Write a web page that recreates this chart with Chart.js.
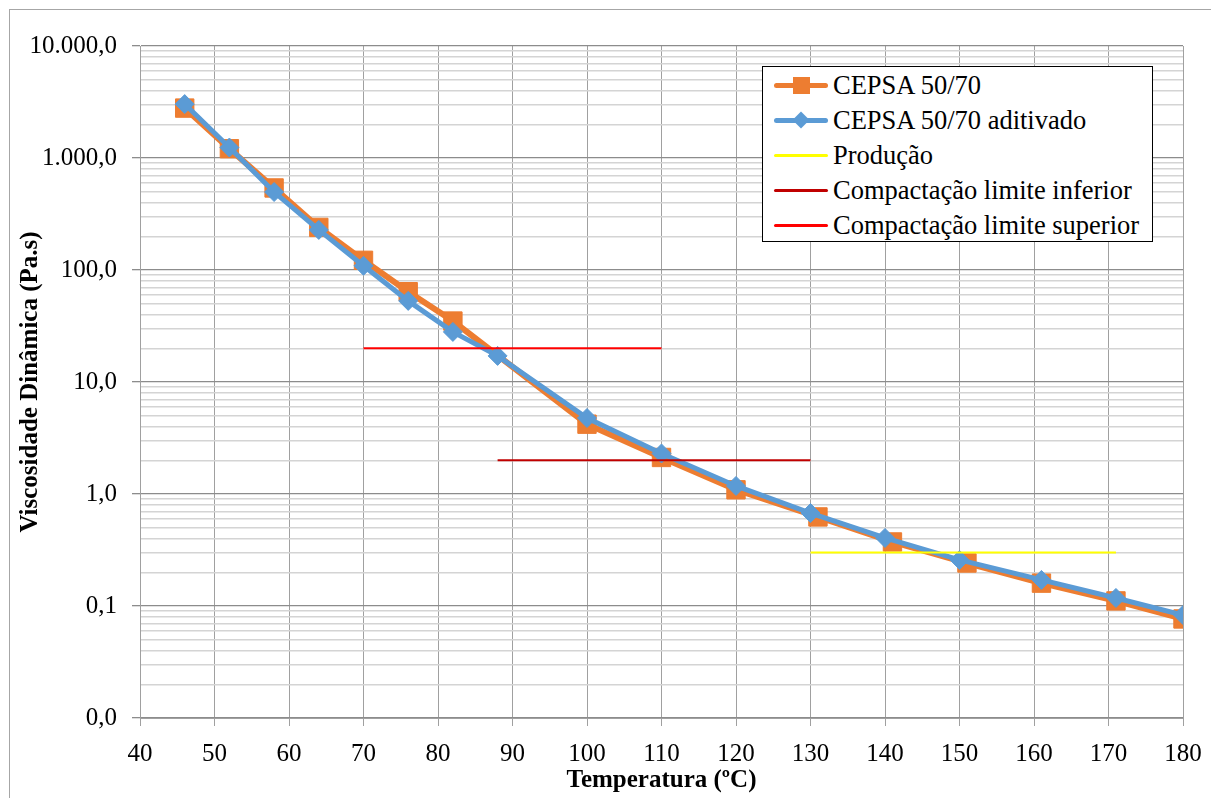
<!DOCTYPE html>
<html>
<head>
<meta charset="utf-8">
<script src="https://cdn.jsdelivr.net/npm/chart.js@4/dist/chart.umd.min.js"></script>
<style>
  html, body { margin: 0; padding: 0; background: #fff; }
  #wrap { position: relative; width: 1211px; height: 798px; overflow: hidden; }
  #frame { position: absolute; left: 9px; top: 9px; width: 1300px; height: 900px; border: 1px solid #a6a6a6; }
  canvas { position: absolute; left: 0; top: 0; }
  #legend {
    position: absolute; left: 762px; top: 66px; width: 389px; height: 174px;
    border: 1.5px solid #000; background: #fff;
    font-family: 'Liberation Serif'; font-size: 26.5px; color: #000;
  }
  .item { position: absolute; left: 11px; height: 34px; line-height: 34px; white-space: nowrap; }
  .sample { position: absolute; left: 0; top: 17px; width: 54px; }
  .sample .ln { position: absolute; left: 0; width: 54px; border-radius: 3px; }
  .sample .mk { position: absolute; }
  .item .txt { position: absolute; left: 59px; top: 0; }
</style>
</head>
<body>
<div id="wrap">
  <div id="frame"></div>
  <canvas id="chart" width="1211" height="798"></canvas>
  <div id="legend"></div>
</div>
<script>
// temperatures (ºC) and dynamic viscosity (Pa.s)
const tempBase = [46, 52, 58, 64, 70, 76, 82, null, 100, 110, 120, 131, 141, 151, 161, 171, 180];
const viscBase = [2790, 1210, 540, 240, 122, 64, 35, null, 4.2, 2.12, 1.09, 0.624, 0.373, 0.242, 0.160, 0.111, 0.0766];

const tempAdd = [46, 52, 58, 64, 70, 76, 82, 88, 100, 110, 120, 130, 140, 150, 161, 171, 180];
const viscAdd = [3030, 1240, 497, 228, 109, 53, 28, 17.1, 4.77, 2.30, 1.18, 0.676, 0.405, 0.258, 0.171, 0.118, 0.083];

// reference ranges
const producaoT = [130, 171];
const producaoV = [0.3, 0.3];
const limInfT = [88, 130];
const limInfV = [2, 2];
const limSupT = [70, 110];
const limSupV = [20, 20];

const xTicks = [40, 50, 60, 70, 80, 90, 100, 110, 120, 130, 140, 150, 160, 170, 180];
const yTickValues = [0.01, 0.1, 1, 10, 100, 1000, 10000];
const yTickLabels = ['0,0', '0,1', '1,0', '10,0', '100,0', '1.000,0', '10.000,0'];

const seriesNames = ['CEPSA 50/70', 'CEPSA 50/70 aditivado', 'Produção', 'Compactação limite inferior', 'Compactação limite superior'];
const seriesColors = ['#ED7D31', '#5B9BD5', '#FFFF00', '#C00000', '#FF0000'];

function toPoints(xs, ys) {
    return xs.map((x, i) => (x === null ? null : { x: x, y: ys[i] })).filter(p => p !== null);
}

function isDecade(v) {
    const l = Math.log10(v);
    return Math.abs(l - Math.round(l)) < 1e-6;
}

const serif = 'Liberation Serif';

const datasets = [
    {
        label: seriesNames[0],
        data: toPoints(tempBase, viscBase),
        borderColor: seriesColors[0],
        backgroundColor: seriesColors[0],
        borderWidth: 6,
        pointStyle: 'rect',
        pointRadius: 13,
        pointBorderWidth: 1,
        order: 5
    },
    {
        label: seriesNames[1],
        data: toPoints(tempAdd, viscAdd),
        borderColor: seriesColors[1],
        backgroundColor: seriesColors[1],
        borderWidth: 5,
        pointStyle: 'rectRot',
        pointRadius: 9.5,
        pointBorderWidth: 1,
        order: 4
    },
    {
        label: seriesNames[2],
        data: toPoints(producaoT, producaoV),
        borderColor: seriesColors[2],
        borderWidth: 2,
        pointRadius: 0,
        order: 3
    },
    {
        label: seriesNames[3],
        data: toPoints(limInfT, limInfV),
        borderColor: seriesColors[3],
        borderWidth: 2,
        pointRadius: 0,
        order: 2
    },
    {
        label: seriesNames[4],
        data: toPoints(limSupT, limSupV),
        borderColor: seriesColors[4],
        borderWidth: 2,
        pointRadius: 0,
        order: 1
    }
];

new Chart(document.getElementById('chart').getContext('2d'), {
    type: 'scatter',
    data: { datasets: datasets.map(d => Object.assign({ showLine: true, fill: false, tension: 0 }, d)) },
    options: {
        responsive: false,
        animation: false,
        layout: { padding: { left: 0, top: 46, right: 28, bottom: 0 } },
        plugins: { legend: { display: false }, tooltip: { enabled: false } },
        scales: {
            x: {
                type: 'linear',
                min: 40,
                max: 180,
                afterFit: s => { s.height = 80; s.paddingLeft = 0; s.paddingRight = 0; },
                afterBuildTicks: s => { s.ticks = xTicks.map(v => ({ value: v })); },
                ticks: { font: { family: serif, size: 25 }, color: '#000', padding: 13, maxRotation: 0 },
                grid: { color: '#a0a0a0', lineWidth: 1, tickLength: 8, tickColor: '#a0a0a0' },
                border: { color: '#a0a0a0' },
                title: {
                    display: true,
                    text: 'Temperatura (ºC)',
                    font: { family: serif, size: 25, weight: 'bold' },
                    color: '#000',
                    padding: { top: 0, bottom: 2 }
                }
            },
            y: {
                type: 'logarithmic',
                min: 0.01,
                max: 10000,
                afterFit: s => { s.width = 140; s.paddingTop = 0; s.paddingBottom = 0; },
                afterBuildTicks: s => {
                    const t = [];
                    for (let e = -2; e < 4; e++) {
                        for (let m = 1; m < 10; m++) t.push({ value: m * Math.pow(10, e) });
                    }
                    t.push({ value: 10000 });
                    s.ticks = t;
                },
                ticks: {
                    autoSkip: false,
                    font: { family: serif, size: 25 },
                    color: '#000',
                    padding: 15,
                    callback: v => {
                        const i = yTickValues.findIndex(t => Math.abs(t - v) / t < 1e-6);
                        return i >= 0 ? yTickLabels[i] : '';
                    }
                },
                grid: {
                    color: c => (c.tick && isDecade(c.tick.value) ? '#8c8c8c' : '#d4d4d4'),
                    lineWidth: c => (c.tick && isDecade(c.tick.value) ? 1.3 : 1.5),
                    tickLength: 8,
                    tickColor: c => (c.tick && isDecade(c.tick.value) ? '#8c8c8c' : 'rgba(0,0,0,0)')
                },
                border: { color: '#a0a0a0' },
                title: {
                    display: true,
                    text: 'Viscosidade Dinâmica (Pa.s)',
                    font: { family: serif, size: 25, weight: 'bold' },
                    color: '#000',
                    padding: { top: 16, bottom: 0 }
                }
            }
        }
    }
});

// legend box
const legend = document.getElementById('legend');
seriesNames.forEach((name, i) => {
    const item = document.createElement('div');
    item.className = 'item';
    item.style.top = (1 + i * 35) + 'px';
    const sample = document.createElement('div');
    sample.className = 'sample';
    const ln = document.createElement('div');
    ln.className = 'ln';
    const h = i < 2 ? 5 : 3;
    ln.style.height = h + 'px';
    ln.style.top = (-h / 2) + 'px';
    ln.style.background = seriesColors[i];
    sample.appendChild(ln);
    if (i === 0) {
        const mk = document.createElement('div');
        mk.className = 'mk';
        mk.style.cssText = 'left:19px;top:-8px;width:17px;height:17px;background:' + seriesColors[0];
        sample.appendChild(mk);
    } else if (i === 1) {
        const mk = document.createElement('div');
        mk.className = 'mk';
        mk.style.cssText = 'left:21px;top:-6px;width:12px;height:12px;transform:rotate(45deg);background:' + seriesColors[1];
        sample.appendChild(mk);
    }
    const txt = document.createElement('span');
    txt.className = 'txt';
    txt.textContent = name;
    item.appendChild(sample);
    item.appendChild(txt);
    legend.appendChild(item);
});
</script>
</body>
</html>
